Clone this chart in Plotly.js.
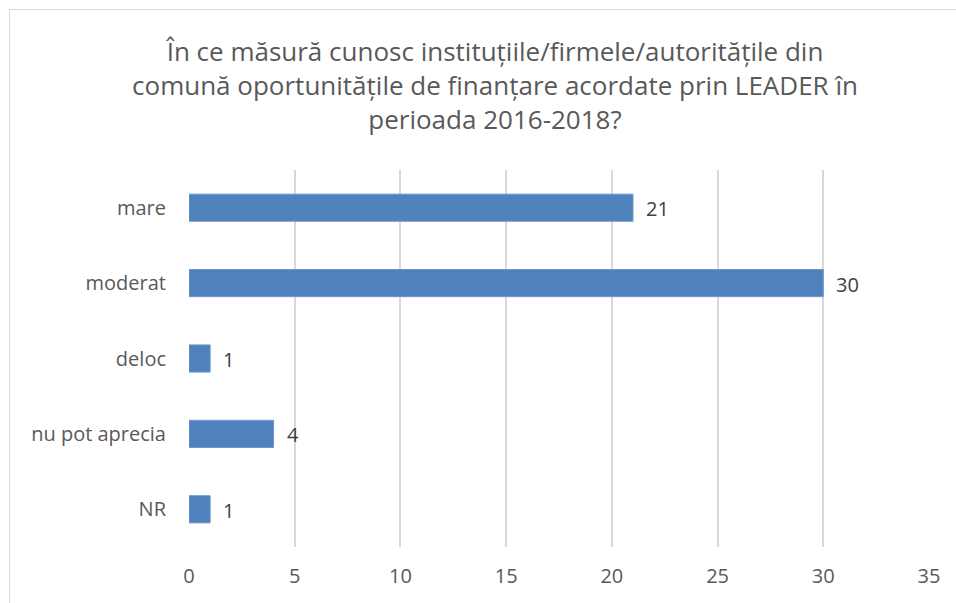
<!DOCTYPE html>
<html><head><meta charset="utf-8">
<script src="https://cdn.plot.ly/plotly-3.0.1.min.js"></script>
<style>
html,body{margin:0;padding:0;background:#fff;}
#wrap{position:relative;width:956px;height:603px;}
#chart{width:956px;height:603px;}
#frame{position:absolute;left:9px;top:9px;width:1000px;height:700px;border-left:1px solid #d9d9d9;border-top:1px solid #d9d9d9;pointer-events:none;}
</style></head>
<body><div id="wrap"><div id="chart"></div><div id="frame"></div></div>
<script>
const categories = ["mare", "moderat", "deloc", "nu pot aprecia", "NR"];
const values = [21, 30, 1, 4, 1];
const xTicks = [0, 5, 10, 15, 20, 25, 30, 35];
const titleText = "În ce măsură cunosc instituțiile/firmele/autoritățile din<br>comună oportunitățile de finanțare acordate prin LEADER în<br>perioada 2016-2018?";

const FONT = "Open Sans, Liberation Sans, sans-serif";
const trace = {
  type: "bar", orientation: "h",
  x: values, y: categories,
  marker: {color: "#4f81bd", line: {color: "#6f97cc", width: 1}},
  hoverinfo: "none"
};
const annotations = values.map((v, i) => ({
  x: v, y: categories[i], xref: "x", yref: "y",
  text: String(v), showarrow: false, xanchor: "left", xshift: 11, yshift: -1,
  font: {family: FONT, size: 20, color: "#404040"}
}));
const layout = {
  width: 956, height: 603,
  margin: {l: 189, r: 27, t: 170, b: 56},
  paper_bgcolor: "#fff", plot_bgcolor: "#fff",
  title: {text: titleText, x: 495/956, xref: "container", xanchor: "center",
          y: 1 - 61/603, yref: "container", yanchor: "middle",
          font: {family: FONT, size: 26, color: "#595959"}},
  xaxis: {range: [0, 35], tickvals: xTicks, ticktext: xTicks.map(String),
          showgrid: true, gridcolor: "#d9d9d9", gridwidth: 2, zeroline: false,
          showline: false, ticks: "", ticklabelstandoff: 15,
          tickfont: {family: FONT, size: 20, color: "#595959"}, fixedrange: true},
  yaxis: {type: "category", autorange: "reversed", showgrid: false, zeroline: false,
          showline: false, ticks: "", ticklabelstandoff: 22,
          tickfont: {family: FONT, size: 20, color: "#595959"}},
  bargap: 0.64,
  showlegend: false,
  annotations: annotations
};
Plotly.newPlot("chart", [trace], layout, {displayModeBar: false, staticPlot: true});
</script></body></html>
